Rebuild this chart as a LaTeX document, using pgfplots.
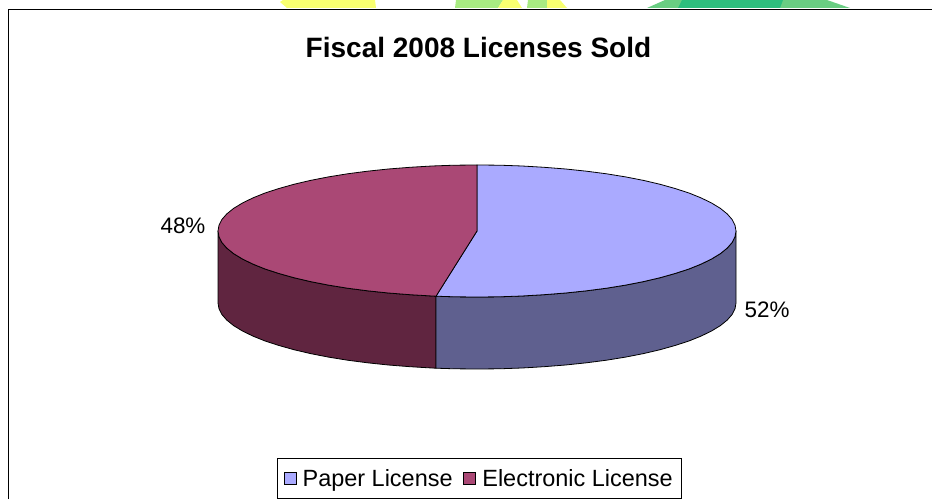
\documentclass[border=0pt]{standalone}
\usepackage{pgfplots}
\pgfplotsset{compat=1.18}
\usepackage{fontspec}
\setmainfont{Liberation Sans}

\definecolor{papertop}{RGB}{170,170,255}
\definecolor{paperside}{RGB}{95,96,143}
\definecolor{elecside}{RGB}{96,37,64}
\definecolor{electop}{RGB}{170,72,117}
\definecolor{bgyellow}{RGB}{248,255,112}
\definecolor{bglime}{RGB}{168,235,130}
\definecolor{bggreen}{RGB}{45,190,125}
\definecolor{bgsoft}{RGB}{105,205,130}

\begin{document}
\begin{tikzpicture}
\begin{axis}[
    scale only axis, width=699pt, height=374.25pt,
    xmin=0, xmax=932, ymin=0, ymax=499, y dir=reverse,
    hide axis,
    title={\fontsize{21}{25}\selectfont\bfseries Fiscal 2008 Licenses Sold},
    title style={at={(axis cs:478.5,48)}, anchor=center, inner sep=0pt, yshift=-5.25pt},
    legend columns=2,
    legend cell align=left,
    legend image code/.code={
        \draw[#1, draw=black, line width=0.6pt] (0pt,-4.5pt) rectangle (9pt,4.5pt);
        \path[draw=none, fill=none] (0pt,0pt) -- (12pt,0pt);
    },
    legend style={
        at={(axis cs:479.5,478.5)}, anchor=center,
        draw=black, line width=0.9pt, inner xsep=4.5pt, inner ysep=6pt,
        font=\fontsize{17.6}{20}\selectfont,
        /tikz/every even column/.append style={column sep=6pt},
    },
]
% page background
\addplot[forget plot, fill=white, draw=none] coordinates {(0,0) (932,0) (932,499) (0,499)} -- cycle;

% bits of the page behind the chart, above the frame
\addplot[forget plot, fill=bgyellow, draw=none] coordinates {(283,0) (375,0) (376,8) (287,8) (280,2)} -- cycle;
\addplot[forget plot, fill=bglime, draw=none] coordinates {(456,0) (503,0) (498,8) (455,8)} -- cycle;
\addplot[forget plot, fill=bgyellow, draw=none] coordinates {(503,0) (517,0) (522,8) (498,8)} -- cycle;
\addplot[forget plot, fill=bglime, draw=none] coordinates {(528,0) (547,0) (547,8) (527,8)} -- cycle;
\addplot[forget plot, fill=bgyellow, draw=none] coordinates {(547,0) (560,0) (567,8) (547,8)} -- cycle;
\addplot[forget plot, fill=bgsoft, draw=none] coordinates {(665,0) (827,0) (850,8) (647,8)} -- cycle;
\addplot[forget plot, fill=bggreen, draw=none] coordinates {(682,0) (783,0) (780,8) (678,8)} -- cycle;

% frame
\addplot[forget plot, black, line width=1.1pt] coordinates {(8.5,499) (8.5,9.5) (932,9.5)};

% side, electronic
\addplot[forget plot, fill=elecside, draw=black, line width=0.6pt] coordinates {
    (218,231) (219,236.8) (221.9,242.5) (226.8,248.1) (233.6,253.6) (242.3,258.9)
    (252.7,264) (264.8,268.9) (278.6,273.4) (293.9,277.7) (310.5,281.6) (328.4,285.1)
    (347.5,288.2) (367.5,290.8) (388.4,293) (410,294.7) (432,296) (436,296.2)
    (436,368.2) (432,368) (410,366.7) (388.4,365) (367.5,362.8) (347.5,360.2)
    (328.4,357.1) (310.5,353.6) (293.9,349.7) (278.6,345.4) (264.8,340.9) (252.7,336)
    (242.3,330.9) (233.6,325.6) (226.8,320.1) (221.9,314.5) (219,308.8) (218,303)
} -- cycle;

% side, paper
\addplot[forget plot, fill=paperside, draw=black, line width=0.6pt] coordinates {
    (436,296.2) (454.4,296.8) (477,297) (499.6,296.8) (522,296) (544,294.7)
    (565.6,293) (586.5,290.8) (606.5,288.2) (625.6,285.1) (643.5,281.6) (660.1,277.7)
    (675.4,273.4) (689.2,268.9) (701.3,264) (711.7,258.9) (720.4,253.6) (727.2,248.1)
    (732.1,242.5) (735,236.8) (736,231)
    (736,303) (735,308.8) (732.1,314.5) (727.2,320.1) (720.4,325.6) (711.7,330.9)
    (701.3,336) (689.2,340.9) (675.4,345.4) (660.1,349.7) (643.5,353.6) (625.6,357.1)
    (606.5,360.2) (586.5,362.8) (565.6,365) (544,366.7) (522,368) (499.6,368.8)
    (477,369) (454.4,368.8) (436,368.2)
} -- cycle;

% top, paper
\addplot[fill=papertop, draw=black, line width=0.6pt] coordinates {
    (477,231) (477,165) (499.6,165.2) (522,166) (544,167.3) (565.6,169) (586.5,171.2)
    (606.5,173.8) (625.6,176.9) (643.5,180.4) (660.1,184.3) (675.4,188.6) (689.2,193.1)
    (701.3,198) (711.7,203.1) (720.4,208.4) (727.2,213.9) (732.1,219.5) (735,225.2)
    (736,231) (735,236.8) (732.1,242.5) (727.2,248.1) (720.4,253.6) (711.7,258.9)
    (701.3,264) (689.2,268.9) (675.4,273.4) (660.1,277.7) (643.5,281.6) (625.6,285.1)
    (606.5,288.2) (586.5,290.8) (565.6,293) (544,294.7) (522,296) (499.6,296.8)
    (477,297) (454.4,296.8) (436,296.2)
} -- cycle;
\addlegendentry{Paper License}

% top, electronic
\addplot[fill=electop, draw=black, line width=0.6pt] coordinates {
    (477,231) (436,296.2) (432,296) (410,294.7) (388.4,293) (367.5,290.8) (347.5,288.2)
    (328.4,285.1) (310.5,281.6) (293.9,277.7) (278.6,273.4) (264.8,268.9) (252.7,264)
    (242.3,258.9) (233.6,253.6) (226.8,248.1) (221.9,242.5) (219,236.8) (218,231)
    (219,225.2) (221.9,219.5) (226.8,213.9) (233.6,208.4) (242.3,203.1) (252.7,198)
    (264.8,193.1) (278.6,188.6) (293.9,184.3) (310.5,180.4) (328.4,176.9) (347.5,173.8)
    (367.5,171.2) (388.4,169) (410,167.3) (432,166) (454.4,165.2) (477,165)
} -- cycle;
\addlegendentry{Electronic License}

\node[font=\fontsize{16.8}{20}\selectfont] at (axis cs:183,226) {48\%};
\node[font=\fontsize{16.8}{20}\selectfont] at (axis cs:767,310) {52\%};
\end{axis}
\end{tikzpicture}
\end{document}
